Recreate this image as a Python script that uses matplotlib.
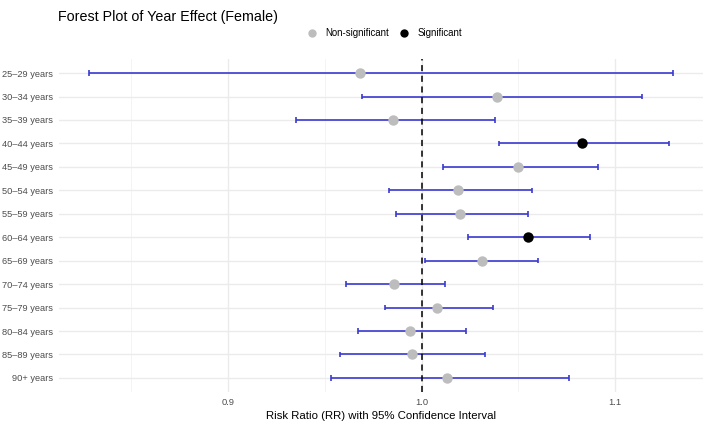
import matplotlib.pyplot as plt
import matplotlib.lines as mlines

plt.rcParams['font.family'] = ['Liberation Sans', 'DejaVu Sans']

groups = ['25–29 years', '30–34 years', '35–39 years', '40–44 years', '45–49 years',
          '50–54 years', '55–59 years', '60–64 years', '65–69 years', '70–74 years',
          '75–79 years', '80–84 years', '85–89 years', '90+ years']
rr = [0.968, 1.039, 0.985, 1.083, 1.050, 1.019, 1.020, 1.055, 1.031, 0.986, 1.008, 0.994, 0.995, 1.013]
lower = [0.828, 0.969, 0.935, 1.040, 1.011, 0.983, 0.987, 1.024, 1.002, 0.961, 0.981, 0.967, 0.958, 0.953]
upper = [1.130, 1.114, 1.038, 1.128, 1.091, 1.057, 1.055, 1.087, 1.060, 1.012, 1.037, 1.023, 1.033, 1.076]
significant = [False, False, False, True, False, False, False, True, False, False, False, False, False, False]

fig = plt.figure(figsize=(7.09, 4.24), dpi=100)
ax = fig.add_axes([59 / 709, 1 - 392 / 424, 644 / 709, 333 / 424])

n = len(groups)
ypos = [n - 1 - i for i in range(n)]

for y, lo, hi in zip(ypos, lower, upper):
    ax.hlines(y, lo, hi, color='#3a3ad0', lw=1.2, zorder=2)
    ax.vlines([lo, hi], y - 0.12, y + 0.12, color='#3a3ad0', lw=1.2, zorder=2)

ax.axvline(1.0, color='black', ls=(0, (4, 3)), lw=1.1, zorder=3)

for y, v, s in zip(ypos, rr, significant):
    ax.plot(v, y, 'o', ms=7.5, mec='none', zorder=4,
            color='black' if s else '#bdbdbd')

ax.set_xlim(0.8127, 1.1454)
ax.set_ylim(-0.6, n - 0.4)
ax.set_yticks(ypos)
ax.set_yticklabels(groups)
ax.set_xticks([0.9, 1.0, 1.1])
ax.set_xticklabels(['0.9', '1.0', '1.1'])
ax.set_xticks([0.85, 0.95, 1.05], minor=True)
ax.tick_params(axis='both', which='both', length=0, labelsize=6.7, colors='#4d4d4d')
ax.tick_params(axis='y', pad=4)
ax.tick_params(axis='x', pad=4)
ax.grid(True, which='major', color='#ebebeb', lw=1.0, zorder=0)
ax.grid(True, which='minor', axis='x', color='#f3f3f3', lw=0.6, zorder=0)
for sp in ax.spines.values():
    sp.set_visible(False)

ax.set_xlabel('Risk Ratio (RR) with 95% Confidence Interval', fontsize=8.2, labelpad=3)
fig.text(58 / 709, 1 - 17 / 424, 'Forest Plot of Year Effect (Female)', fontsize=10.3,
         va='center', ha='left')

h1 = mlines.Line2D([], [], ls='none', marker='o', ms=6, mec='none', color='#bdbdbd')
h2 = mlines.Line2D([], [], ls='none', marker='o', ms=6, mec='none', color='black')
fig.legend([h1, h2], ['Non-significant', 'Significant'], loc='center',
           bbox_to_anchor=(382 / 709, 1 - 33 / 424), ncol=2, frameon=False,
           fontsize=6.9, handletextpad=0.4, columnspacing=0.6)

fig.savefig('out.png', dpi=100)
